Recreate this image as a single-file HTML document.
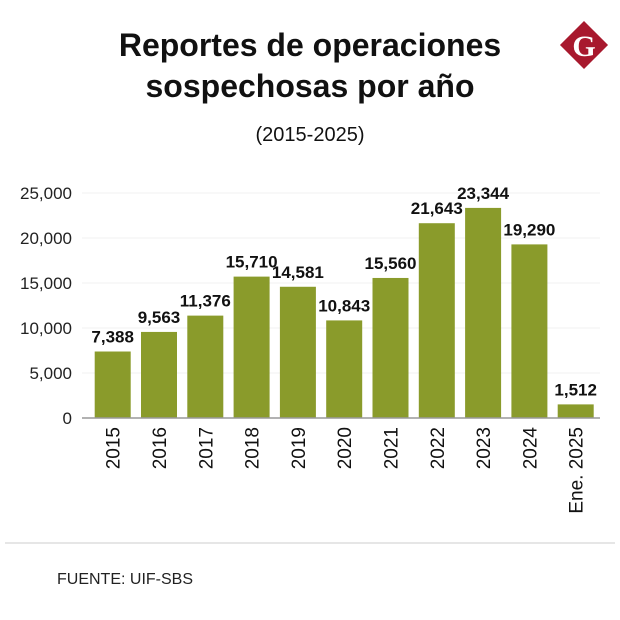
<!DOCTYPE html>
<html><head><meta charset="utf-8"><style>
body{margin:0;background:#fff;font-family:"Liberation Sans",sans-serif;}
</style></head><body>
<svg width="620" height="615" viewBox="0 0 620 615">
<text x="310" y="56" text-anchor="middle" font-size="32" font-weight="bold" fill="#111">Reportes de operaciones</text>
<text x="310" y="97" text-anchor="middle" font-size="32" font-weight="bold" fill="#111">sospechosas por año</text>
<text x="310" y="141" text-anchor="middle" font-size="20" fill="#111">(2015-2025)</text>
<g>
<rect x="567" y="28" width="34" height="34" fill="#a8192e" transform="rotate(45 584 45)"/>
<text x="584" y="56" text-anchor="middle" font-family="Liberation Serif,serif" font-size="30" font-weight="bold" fill="#fff">G</text>
</g>
<g id="grid"></g><g id="bars"></g>
<line x1="5" y1="543" x2="615" y2="543" stroke="#ccc"/>
<text x="57" y="584" font-size="16" fill="#222">FUENTE: UIF-SBS</text>
</svg>
<script>
const categories=["2015","2016","2017","2018","2019","2020","2021","2022","2023","2024","Ene. 2025"];
const values=[7388,9563,11376,15710,14581,10843,15560,21643,23344,19290,1512];
const valueLabels=["7,388","9,563","11,376","15,710","14,581","10,843","15,560","21,643","23,344","19,290","1,512"];
const ticks=[0,5000,10000,15000,20000,25000];
const tickLabels=["0","5,000","10,000","15,000","20,000","25,000"];
const NS="http://www.w3.org/2000/svg";
const y0=418,yMax=193,vMax=25000;
const y=v=>y0-(y0-yMax)*v/vMax;
const x=i=>94.7+i*46.3;
const bw=36;
function mk(t,a,p,txt){const e=document.createElementNS(NS,t);for(const k in a)e.setAttribute(k,a[k]);if(txt!==undefined)e.textContent=txt;p.appendChild(e);return e;}
const g=document.getElementById('grid'),b=document.getElementById('bars');
ticks.forEach((t,i)=>{
 if(t>0){const l=mk('line',{x1:82,x2:600,y1:y(t),y2:y(t),stroke:'#f0f0f0'},g);
 
 }
 const tx=mk('text',{x:72,y:y(t)+6,'text-anchor':'end','font-size':17,fill:'#222'},g,tickLabels[i]);
 
 
});
values.forEach((v,i)=>{
 const r=mk('rect',{x:x(i),y:y(v),width:bw,height:y0-y(v),fill:'#8a9b2b'},b);
 
 
 const lab=mk('text',{x:x(i)+bw/2,y:y(v)-9,'text-anchor':'middle','font-size':17,'font-weight':'bold',fill:'#111'},b,valueLabels[i]);
 
 
 const cx=x(i)+bw/2+7;
 const c=mk('text',{x:cx,y:427,'text-anchor':'end','font-size':19,fill:'#111',transform:`rotate(-90 ${cx} 427)`},b,categories[i]);
 
 
});
const ax=mk('line',{x1:82,x2:600,y1:y0,y2:y0,stroke:'#999','stroke-width':1.5},b);


</script>
</body></html>
